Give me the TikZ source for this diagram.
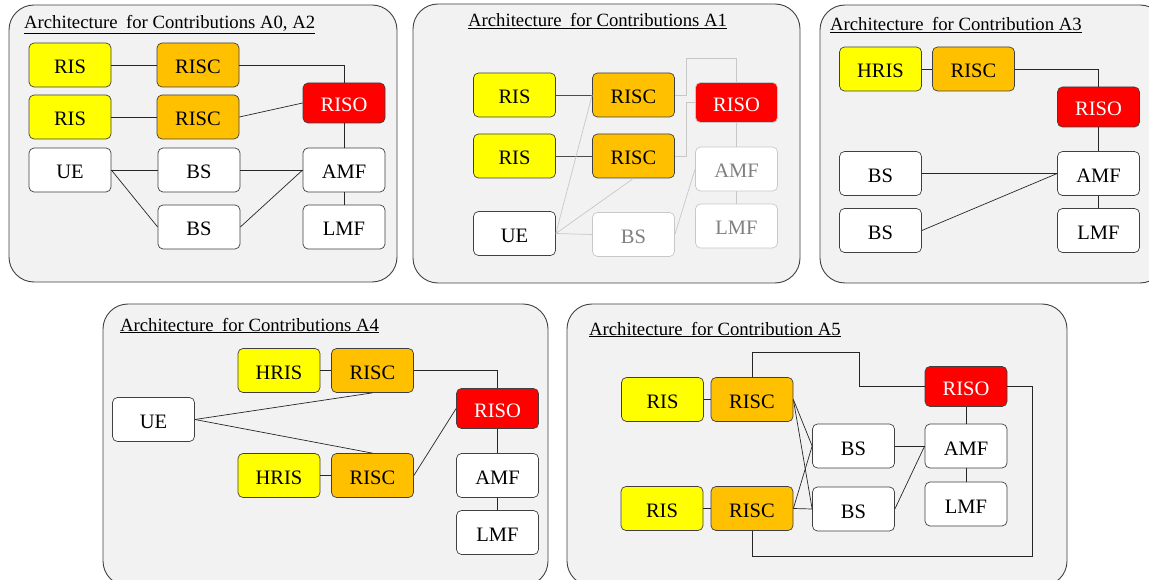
\documentclass[tikz,border=0pt]{standalone}
\usepackage{fontspec}
\setmainfont{Liberation Serif}
\definecolor{risyellow}{HTML}{FFFF00}
\definecolor{riscorange}{HTML}{FFC000}
\definecolor{frameline}{HTML}{404040}
\definecolor{panelgrey}{HTML}{F2F2F2}
\definecolor{fadeline}{HTML}{C8C8C8}
\definecolor{fadetext}{HTML}{808080}
\begin{document}
\begin{tikzpicture}[x=1pt,y=-1pt,
  panel/.style={draw=frameline, fill=panelgrey, rounded corners=25pt, line width=0.9pt},
  nbox/.style={draw=frameline, fill=white, rounded corners=5pt, minimum width=82pt,
    minimum height=44pt, inner sep=0pt, line width=0.7pt, text height=18pt, text depth=0pt,
    font=\fontsize{20.5}{20.5}\selectfont},
  ris/.style={nbox, fill=risyellow},
  risc/.style={nbox, fill=riscorange},
  riso/.style={nbox, fill=red, text=white, minimum height=40pt},
  faded/.style={nbox, draw=fadeline, text=fadetext},
  ptitle/.style={anchor=base west, inner sep=0pt, font=\fontsize{18.7}{18.7}\selectfont},
  link/.style={draw=black!85, line width=0.7pt},
  fadelink/.style={draw=fadeline, line width=0.7pt}
]
\useasboundingbox (0,0) rectangle (1149,580);
\clip (0,0) rectangle (1149,580);

% ---------- panel frames ----------
\draw[panel] (9,5) rectangle (397,282);
\draw[panel] (413,4) rectangle (800,283);
\draw[panel] (820,5) rectangle (1165,283);
\draw[panel] (103,304) rectangle (548,586);
\draw[panel] (567,304) rectangle (1067,586);

% ---------- titles ----------
\node[ptitle] (t1) at (24,29) {\underline{Architecture\hspace{0.2em} for Contributions A0, A2}};
\node[ptitle] (t2) at (468,27) {\underline{Architecture\hspace{0.2em} for Contributions A1}};
\node[ptitle] (t3) at (830,31) {\underline{Architecture\hspace{0.2em} for Contribution A3}};
\node[ptitle] (t4) at (120,331) {\underline{Architecture\hspace{0.2em} for Contributions A4}};
\node[ptitle] (t5) at (589,335) {\underline{Architecture\hspace{0.2em} for Contribution A5}};

% ---------- A0, A2 ----------
\node[ris]  (p1ris1)  at (70,65)   {RIS};
\node[risc] (p1risc1) at (198,65)  {RISC};
\node[ris]  (p1ris2)  at (70,117)  {RIS};
\node[risc] (p1risc2) at (198,117) {RISC};
\node[riso] (p1riso)  at (344,103) {RISO};
\node[nbox] (p1ue)    at (70,170)  {UE};
\node[nbox] (p1bs1)   at (199,170) {BS};
\node[nbox] (p1amf)   at (344,170) {AMF};
\node[nbox] (p1bs2)   at (199,227) {BS};
\node[nbox] (p1lmf)   at (344,227) {LMF};
\draw[link] (p1ris1) -- (p1risc1);
\draw[link] (p1risc1.east) -| (p1riso.north);
\draw[link] (p1ris2) -- (p1risc2);
\draw[link] (p1risc2.east) -- (p1riso.west);
\draw[link] (p1riso) -- (p1amf);
\draw[link] (p1amf) -- (p1lmf);
\draw[link] (p1ue.east) -- (p1bs1.west);
\draw[link] (p1ue.east) -- (p1bs2.west);
\draw[link] (p1bs1.east) -- (p1amf.west);
\draw[link] (p1bs2.east) -- (p1amf.west);

% ---------- A1 ----------
\node[ris]  (p2ris1)  at (514.5,95)    {RIS};
\node[risc] (p2risc1) at (633.5,95)    {RISC};
\node[ris]  (p2ris2)  at (514.5,156)   {RIS};
\node[risc] (p2risc2) at (633.5,156)   {RISC};
\node[riso, draw=fadeline] (p2riso) at (736.5,102.5) {RISO};
\node[faded] (p2amf)  at (736.5,169)   {AMF};
\node[faded] (p2lmf)  at (736.5,226)   {LMF};
\node[nbox]  (p2ue)   at (514.5,233.5) {UE};
\node[faded] (p2bs)   at (633.5,234.5) {BS};
\coordinate (p2top) at (736.5,58);
\draw[link, draw=black!70] (p2ris1) -- (p2risc1);
\draw[link, draw=black!70] (p2ris2) -- (p2risc2);
\draw[fadelink] (p2risc1.east) -- ++(11,0) |- (p2top) -- (p2riso.north);
\draw[fadelink] (p2risc2.east) -- ++(11,0) |- (p2riso.west);
\draw[fadelink] (p2ue.east) -- (p2risc1.west);
\draw[fadelink] (p2ue.east) -- (p2risc2.south);
\draw[fadelink] (p2ue.east) -- (p2bs.west);
\draw[fadelink] (p2bs.east) -- (p2amf.west);
\draw[fadelink] (p2riso) -- (p2amf);
\draw[fadelink] (p2amf) -- (p2lmf);

% ---------- A3 ----------
\node[ris]  (p3hris) at (880.5,69)    {HRIS};
\node[risc] (p3risc) at (973.5,69)    {RISC};
\node[riso] (p3riso) at (1098.5,107)  {RISO};
\node[nbox] (p3bs1)  at (880.5,173.5) {BS};
\node[nbox] (p3amf)  at (1098.5,173.5){AMF};
\node[nbox] (p3bs2)  at (880.5,230.5) {BS};
\node[nbox] (p3lmf)  at (1098.5,230.5){LMF};
\draw[link] (p3hris) -- (p3risc);
\draw[link] (p3risc.east) -| (p3riso.north);
\draw[link] (p3riso) -- (p3amf);
\draw[link] (p3amf) -- (p3lmf);
\draw[link] (p3bs1.east) -- (p3amf.west);
\draw[link] (p3bs2.east) -- (p3amf.west);

% ---------- A4 ----------
\node[ris]  (p4hris1) at (279,370.5)   {HRIS};
\node[risc] (p4risc1) at (372.5,370.5) {RISC};
\node[nbox] (p4ue)    at (153.5,419.5) {UE};
\node[riso] (p4riso)  at (497.5,408.5) {RISO};
\node[ris]  (p4hris2) at (279,475.5)   {HRIS};
\node[risc] (p4risc2) at (372.5,475.5) {RISC};
\node[nbox] (p4amf)   at (497.5,475.5) {AMF};
\node[nbox] (p4lmf)   at (497.5,532.5) {LMF};
\draw[link] (p4hris1) -- (p4risc1);
\draw[link] (p4hris2) -- (p4risc2);
\draw[link] (p4risc1.east) -| (p4riso.north);
\draw[link] (p4ue.east) -- (p4risc1.south);
\draw[link] (p4ue.east) -- (p4risc2.north);
\draw[link] (p4risc2.east) -- (p4riso.west);
\draw[link] (p4riso) -- (p4amf);
\draw[link] (p4amf) -- (p4lmf);

% ---------- A5 ----------
\node[ris]  (p5ris1)  at (662.5,399.5) {RIS};
\node[risc] (p5risc1) at (752,399.5)   {RISC};
\node[riso] (p5riso)  at (966,386.5)   {RISO};
\node[nbox] (p5bs1)   at (853.5,446)   {BS};
\node[nbox] (p5amf)   at (966,446)     {AMF};
\node[ris]  (p5ris2)  at (662,508.5)   {RIS};
\node[risc] (p5risc2) at (752,508.5)   {RISC};
\node[nbox] (p5bs2)   at (853.5,509)   {BS};
\node[nbox] (p5lmf)   at (966,504)     {LMF};
\coordinate (p5up) at (859,352);
\coordinate (p5down) at (1032,556);
\draw[link] (p5ris1) -- (p5risc1);
\draw[link] (p5ris2) -- (p5risc2);
\draw[link] (p5risc1.north) |- (p5up) |- (p5riso.west);
\draw[link] (p5riso.east) -| (p5down) -| (p5risc2.south);
\draw[link] (p5risc1.east) -- (p5bs1.west);
\draw[link] (p5risc1.east) -- (p5bs2.west);
\draw[link] (p5risc2.east) -- (p5bs1.west);
\draw[link] (p5risc2.east) -- (p5bs2.west);
\draw[link] (p5bs1.east) -- (p5amf.west);
\draw[link] (p5bs2.east) -- (p5amf.west);
\draw[link] (p5riso) -- (p5amf);
\draw[link] (p5amf) -- (p5lmf);
\end{tikzpicture}
\end{document}
